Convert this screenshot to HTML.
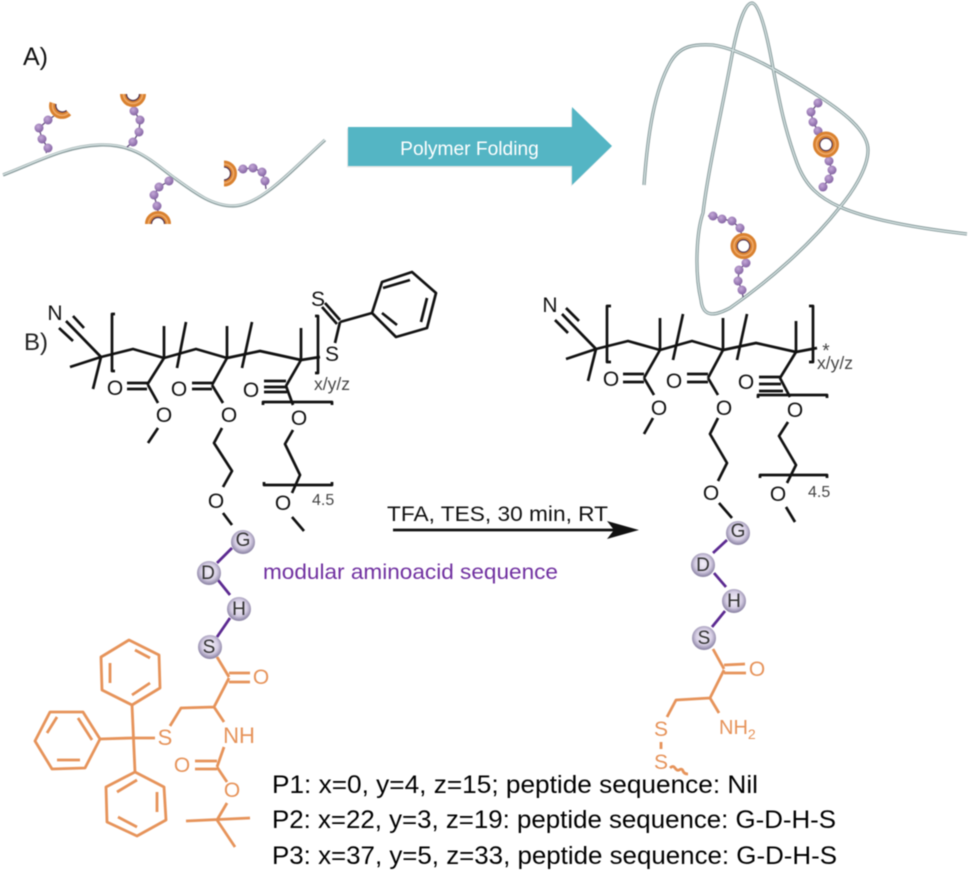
<!DOCTYPE html>
<html><head><meta charset="utf-8"><style>
html,body{margin:0;padding:0;background:#fff}
svg{display:block;filter:blur(.5px)}
text{font-family:"Liberation Sans",sans-serif}
.k{fill:none;stroke:#111;stroke-width:2.7;stroke-linecap:butt;stroke-linejoin:round}
.o{fill:none;stroke:#e6935a;stroke-width:2.8;stroke-linejoin:round}
.p{fill:none;stroke:#5c2a91;stroke-width:2.8}
.at{font-size:21px;fill:#111;text-anchor:middle}
.ot{font-size:21px;fill:#e6935a;text-anchor:middle}
.g{font-size:16px;fill:#444}
.b{font-size:25px;fill:#000}
</style></head><body>
<svg width="977" height="873" viewBox="0 0 977 873" xmlns="http://www.w3.org/2000/svg">
<defs>
<radialGradient id="bead" cx=".4" cy=".35" r=".7"><stop offset="0" stop-color="#c4a8d8"/><stop offset="1" stop-color="#805f9f"/></radialGradient>
<radialGradient id="sph" cx=".5" cy=".45" r=".55"><stop offset="0" stop-color="#f3eff8"/><stop offset=".6" stop-color="#d6cee4"/><stop offset="1" stop-color="#857d9f"/></radialGradient>
</defs>

<text x="23" y="65" font-size="25" fill="#111">A)</text>
<text x="24" y="350" font-size="24" fill="#222">B)</text>

<!-- Panel A polymer -->
<g fill="none">
<path d="M3,175 C35,163 65,146 100,145 C135,144 150,160 173,177 C195,193 212,206 233,206 C260,206 290,172 325,140" stroke="#8a9c9d" stroke-width="3.2"/>
<path d="M3,174.600 C35,162.600 65,145.600 100,144.600 C135,143.600 150,159.600 173,176.600 C195,192.600 212,205.600 233,205.600 C260,205.600 290,171.600 325,139.600" stroke="#d8e4e4" stroke-width="1.4"/>
</g>
<!-- chains A -->
<g fill="none" stroke="#5e4a78" stroke-width="1.3">
<path d="M46,153 L48,148 L42,139 L39,128 L48,120 L54,116"/>
<path d="M127,147 L133,142 L139,132 L140,120 L134,111 L133,106"/>
<path d="M169,181 L159,187 L154,195 L157,206 L158,211"/>
<path d="M266,189 L265,181 L262,172 L253,168 L243,169 L238,170"/>
</g>
<g fill="url(#bead)">
<circle cx="48" cy="148" r="4.5"/><circle cx="42" cy="139" r="4.5"/><circle cx="39" cy="128" r="4.5"/><circle cx="48" cy="120" r="4.5"/>
<circle cx="133" cy="142" r="4.5"/><circle cx="139" cy="132" r="4.5"/><circle cx="140" cy="120" r="4.5"/><circle cx="134" cy="111" r="4.5"/>
<circle cx="169" cy="181" r="4.5"/><circle cx="159" cy="187" r="4.5"/><circle cx="154" cy="195" r="4.5"/><circle cx="157" cy="206" r="4.5"/>
<circle cx="265" cy="181" r="4.5"/><circle cx="262" cy="172" r="4.5"/><circle cx="253" cy="168" r="4.5"/><circle cx="243" cy="169" r="4.5"/>
</g>
<!-- half rings -->
<g fill="none" stroke="#d9812f" stroke-width="7">
<path d="M53,103 A9.5,9.5 0 0 0 68.7,112.700"/>
<path d="M123.500,94 A9.5,9.5 0 0 0 142.500,94"/>
<path d="M148.500,224 A9.5,9.5 0 0 1 167.500,224"/>
<path d="M224,164 A9.5,9.5 0 0 1 224,183"/>
</g>
<g fill="none" stroke="#efa968" stroke-width="1.6">
<path d="M53,103 A9.5,9.5 0 0 0 68.7,112.700"/>
<path d="M123.500,94 A9.5,9.5 0 0 0 142.500,94"/>
<path d="M148.500,224 A9.5,9.5 0 0 1 167.500,224"/>
<path d="M224,164 A9.5,9.5 0 0 1 224,183"/>
</g>
<g fill="none" stroke="#4f3350" stroke-width="1.2">
<path d="M56,104 A6.5,6.5 0 0 0 66.500,110.500"/>
<path d="M126.500,94 A6.5,6.5 0 0 0 139.500,94"/>
<path d="M151.500,224 A6.5,6.5 0 0 1 164.500,224"/>
<path d="M224,167 A6.5,6.5 0 0 1 224,180"/>
</g>

<!-- big arrow -->
<polygon points="348,127 572,127 572,107 612,146 572,185 572,166 348,166" fill="#c9c9c9" transform="translate(-1,1.5)" opacity=".45"/>
<polygon points="348,127 572,127 572,107 612,146 572,185 572,166 348,166" fill="#54b5c4"/>
<text x="469.500" y="155" font-size="19.200" fill="#fff" text-anchor="middle">Polymer Folding</text>

<!-- Folded polymer -->
<g fill="none">
<path d="M644,185 C648,130 655,90 670,63 C680,45 695,44 713,45 C745,50 790,78 820,97 C840,110 868,130 868,150 C868,170 850,195 840,207 C810,245 770,280 730,308 C715,316 703,318 701,300 C694,270 697,230 703,213 C708,170 722,110 733,50 C738,25 745,3 752,3 C760,3 768,40 773,68 C780,105 785,130 797,163 C806,187 820,198 840,207 C870,220 915,228 967,234" stroke="#86999a" stroke-width="3.3"/>
<path d="M644,185 C648,130 655,90 670,63 C680,45 695,44 713,45 C745,50 790,78 820,97 C840,110 868,130 868,150 C868,170 850,195 840,207 C810,245 770,280 730,308 C715,316 703,318 701,300 C694,270 697,230 703,213 C708,170 722,110 733,50 C738,25 745,3 752,3 C760,3 768,40 773,68 C780,105 785,130 797,163 C806,187 820,198 840,207 C870,220 915,228 967,234" stroke="#d3e0e0" stroke-width="1.4"/>
</g>
<g fill="none" stroke="#5e4a78" stroke-width="1.3">
<path d="M818,103 L811,112 L813,122 L818,131 L822,136"/>
<path d="M829,161 L832,170 L829,179 L823,187 L821,191"/>
<path d="M708,216 L713,216 L722,219 L732,221 L740,228 L742,236"/>
<path d="M746,263 L739,270 L738,281 L742,290 L743,297"/>
</g>
<g fill="url(#bead)">
<circle cx="818" cy="103" r="4.5"/><circle cx="811" cy="112" r="4.5"/><circle cx="813" cy="122" r="4.5"/><circle cx="818" cy="131" r="4.5"/>
<circle cx="829" cy="161" r="4.5"/><circle cx="832" cy="170" r="4.5"/><circle cx="829" cy="179" r="4.5"/><circle cx="823" cy="187" r="4.5"/>
<circle cx="713" cy="216" r="4.5"/><circle cx="722" cy="219" r="4.5"/><circle cx="732" cy="221" r="4.5"/><circle cx="740" cy="228" r="4.5"/>
<circle cx="746" cy="263" r="4.5"/><circle cx="739" cy="270" r="4.5"/><circle cx="738" cy="281" r="4.5"/><circle cx="742" cy="290" r="4.5"/>
</g>
<g fill="none">
<circle cx="826" cy="144.500" r="9.5" stroke="#d9812f" stroke-width="7"/>
<circle cx="826" cy="144.500" r="9.5" stroke="#efa968" stroke-width="1.6"/>
<circle cx="826" cy="144.500" r="6.2" stroke="#4f3350" stroke-width="1.1"/>
<circle cx="743.500" cy="246" r="9.5" stroke="#d9812f" stroke-width="7"/>
<circle cx="743.500" cy="246" r="9.5" stroke="#efa968" stroke-width="1.6"/>
<circle cx="743.500" cy="246" r="6.2" stroke="#4f3350" stroke-width="1.1"/>
</g>

<!-- Left structure black -->
<g class="k">
<path d="M101,357 L66,321 M73,316 L84,328 M59,328 L73,341 M101,357 L70,367 M101,357 L93,389"/>
<path d="M115,314 L112,314 L112,371 L115,371"/>
<path d="M101,357 L133,349 L164,358 L196,349 L227,358 L260,351 L301,360 L320,357"/>
<path d="M164,358 V326 M177,368 L186,322 M227,358 V326 M242,368 L252,322 M301,360 V328"/>
<path d="M315,316 H318 V373 H315"/>
<path d="M164,358 L147,385 M127,383 H148 M127,389 H147 M148,385 L158,403 M158,428 L148,443"/>
<path d="M227,358 L212,385 M192,383 H213 M192,389 H212 M212,385 L223,403 M222,428 L214,443 L232,471 L223,487 M223,513 L232,525"/>
<path d="M301,360 L286,386 M264,381 H286 M264,387 H287 M264,392 H287 M286,386 L293,405 M293,430 L285,444 L300,475 L292,493 M292,517 L304,531"/>
<path d="M263,405 V402 H332 V405 M264,482 V485 H332 V482"/>
<path d="M325,303 L340,320 M322,307 L337,324 M340,322 L335,343 M340,322 L372,313"/>
<path d="M372,313 L382,282 L412,272 L436,293 L427,328 L396,337 Z"/>
<path d="M383,288 L410,280 M427,298 L421,322 M397,325 L382,313"/>
</g>
<text x="55" y="320" class="at">N</text>
<text x="115" y="395" class="at">O</text>
<text x="179" y="396" class="at">O</text>
<text x="251" y="397" class="at">O</text>
<text x="164" y="422" class="at">O</text>
<text x="229" y="422" class="at">O</text>
<text x="299" y="425" class="at">O</text>
<text x="216" y="508" class="at">O</text>
<text x="283" y="510" class="at">O</text>
<text x="318" y="306" class="at">S</text>
<text x="332" y="361" class="at">S</text>
<text x="314" y="390" class="g" style="font-size:17.5px">x/y/z</text>
<text x="312" y="505" class="g">4.5</text>

<!-- Right structure black -->
<g class="k">
<path d="M596,349 L562,314 M566,308 L579,321 M555,320 L568,333 M596,349 L566,359 M596,349 L588,381"/>
<path d="M611,306 H607 V362 H611"/>
<path d="M596,349 L628,341 L660,350 L692,341 L723,350 L756,343 L796,352 L817,348"/>
<path d="M660,350 V318 M683,314 L673,360 M723,350 V318 M747,314 L737,360 M796,352 V321"/>
<path d="M809,306 H813 V362 H809"/>
<path d="M660,350 L644,378 M623,374 H644 M623,382 H644 M644,378 L654,395 M653,418 L644,434"/>
<path d="M723,350 L708,378 M687,374 H708 M687,382 H708 M708,378 L718,395 M718,418 L710,434 L727,463 L718,481 M719,503 L732,518"/>
<path d="M796,352 L780,378 M759,377 H780 M759,384 H781 M759,391 H783 M780,378 L790,397 M788,422 L779,436 L796,465 L787,483 M786,507 L795,522"/>
<path d="M758,398 V395 H827 V398 M760,478 V475 H827 V478"/>
</g>
<text x="550" y="312" class="at">N</text>
<text x="611" y="386" class="at">O</text>
<text x="674" y="388" class="at">O</text>
<text x="746" y="389" class="at">O</text>
<text x="659" y="415" class="at">O</text>
<text x="724" y="415" class="at">O</text>
<text x="795" y="417" class="at">O</text>
<text x="711" y="500" class="at">O</text>
<text x="778" y="501" class="at">O</text>
<text x="826" y="357" font-size="19" fill="#444" text-anchor="middle">*</text>
<text x="817" y="369" class="g" style="font-size:17.5px">x/y/z</text>
<text x="808" y="497" class="g">4.5</text>

<!-- reaction arrow -->
<text x="387" y="521" font-size="21" fill="#111" textLength="221" lengthAdjust="spacingAndGlyphs">TFA, TES, 30 min, RT</text>
<line x1="393" y1="530" x2="615" y2="530" stroke="#111" stroke-width="2.7"/>
<polygon points="639,530 607,521 614,530 607,539" fill="#111"/>

<text x="263" y="579" font-size="21" fill="#7030a0" textLength="295" lengthAdjust="spacingAndGlyphs">modular aminoacid sequence</text>

<!-- Purple bonds -->
<g class="p">
<path d="M232,548 L217,563 M218,580 L230,595 M230,618 L217,637"/>
<path d="M727,540 L713,553 M714,573 L726,587 M725,611 L712,627"/>
</g>
<g fill="url(#sph)">
<circle cx="243" cy="542" r="12"/><circle cx="209" cy="573" r="12"/><circle cx="239" cy="609" r="12"/><circle cx="210" cy="647" r="12"/>
<circle cx="738" cy="533" r="12"/><circle cx="703" cy="565" r="12"/><circle cx="734" cy="601" r="12"/><circle cx="704" cy="638" r="12"/>
</g>
<g font-size="19" fill="#333" text-anchor="middle">
<text x="243" y="546">G</text><text x="208" y="579">D</text><text x="239" y="615">H</text><text x="209" y="653">S</text>
<text x="738" y="537">G</text><text x="703" y="571">D</text><text x="734" y="607">H</text><text x="704" y="644">S</text>
</g>

<!-- Left orange -->
<g class="o">
<path d="M217,657 L229,677 M229,673 H250 M229,682 H250 M229,678 L214,707 L181,708 L170,726 M214,707 L224,722"/>
<path d="M224,747 L217,767 M195,761 H217 M195,769 H217 M217,767 L227,782 M227,803 L217,820 M186,821 L250,818 M217,820 L235,847"/>
<path d="M155,738 L132,738 M132,705 L135,772 M132,738 L100,739"/>
<path d="M132,705 L102,690 L101,657 L129,640 L159,655 L160,688 Z"/>
<path d="M135,650 L150,658 M110,663 V683 M132,695 L150,683"/>
<path d="M100,739 L83,712 L50,712 L35,741 L52,769 L85,768 Z"/>
<path d="M92,740 L78,718 M57,717 L47,733 M57,760 H80"/>
<path d="M135,772 L164,787 L166,820 L137,836 L107,822 L106,787 Z"/>
<path d="M137,780 L117,792 M157,792 V812 M118,817 L137,827"/>
</g>
<text x="261" y="684" class="ot">O</text>
<text x="165" y="745" class="ot" style="font-size:22px">S</text>
<text x="239" y="743" class="ot" style="font-size:22px">NH</text>
<text x="182" y="772" class="ot">O</text>
<text x="232" y="797" class="ot">O</text>

<!-- Right orange -->
<g class="o">
<path d="M713,649 L724,669 M724,665 L745,664 M724,673 L746,673 M724,670 L710,698 L676,700 L667,717 M710,698 L719,713 M661,742 V749"/>
<path d="M670,768 q3,-3 5,0 t4,2 q3,-2 4,1 t5,3"/>
</g>
<text x="757" y="676" class="ot">O</text>
<text x="661" y="736" class="ot">S</text>
<text x="661" y="769" class="ot">S</text>
<text x="719" y="734" font-size="20" fill="#e6935a">NH<tspan font-size="14" dy="5">2</tspan></text>

<!-- Footer text -->
<text x="272" y="793" class="b" textLength="486" lengthAdjust="spacingAndGlyphs">P1: x=0, y=4, z=15; peptide sequence: Nil</text>
<text x="272" y="828" class="b" textLength="564" lengthAdjust="spacingAndGlyphs">P2: x=22, y=3, z=19: peptide sequence: G-D-H-S</text>
<text x="272" y="864" class="b" textLength="565" lengthAdjust="spacingAndGlyphs">P3: x=37, y=5, z=33, peptide sequence: G-D-H-S</text>
</svg>
</body></html>
